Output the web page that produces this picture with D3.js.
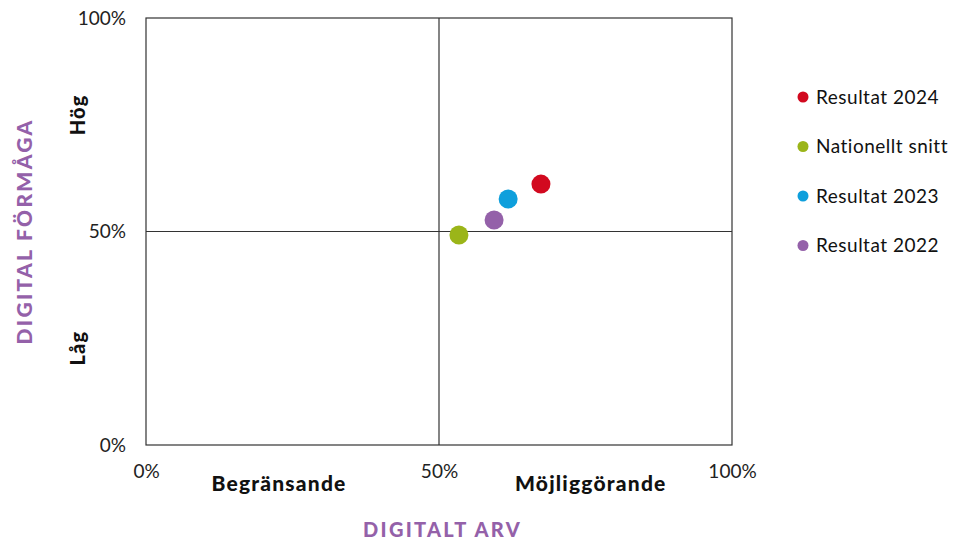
<!DOCTYPE html>
<html>
<head>
<meta charset="utf-8">
<script src="https://cdn.jsdelivr.net/npm/d3@7"></script>
<style>
  html, body { margin: 0; padding: 0; background: #fff; }
  svg { display: block; font-family: Lato, "Open Sans", sans-serif; }
</style>
</head>
<body>
<svg id="chart" width="954" height="544"></svg>
<script>
// Series shown in the matrix (x = digitalt arv, y = digital förmåga)
const seriesNames = ["Resultat 2024", "Nationellt snitt", "Resultat 2023", "Resultat 2022"];
const xValues = [0.674, 0.534, 0.618, 0.594];
const yValues = [0.611, 0.492, 0.576, 0.527];
const seriesColors = ["#d2091f", "#9bb519", "#0e9fdc", "#9461a9"];
const tickValues = [0, 0.5, 1];

const svg = d3.select("#chart");
const margin = { left: 146, right: 222, top: 18, bottom: 99 };
const W = 954, H = 544;

const x = d3.scaleLinear().domain([0, 1]).range([margin.left, W - margin.right]);
const y = d3.scaleLinear().domain([0, 1]).range([H - margin.bottom, margin.top]);
const fmt = d3.format(".0%");

// Frame and quadrant dividers
svg.append("rect")
  .attr("x", x(0)).attr("y", y(1))
  .attr("width", x(1) - x(0)).attr("height", y(0) - y(1))
  .attr("fill", "none").attr("stroke", "#333").attr("stroke-width", 1.2);
svg.append("line")
  .attr("x1", x(0.5)).attr("x2", x(0.5)).attr("y1", y(0)).attr("y2", y(1))
  .attr("stroke", "#333").attr("stroke-width", 1.2);
svg.append("line")
  .attr("x1", x(0)).attr("x2", x(1)).attr("y1", y(0.5)).attr("y2", y(0.5))
  .attr("stroke", "#333").attr("stroke-width", 1.2);

// Axes: tick labels only
const yAxis = svg.append("g")
  .attr("transform", `translate(${x(0) - 20},0)`)
  .call(d3.axisLeft(y).tickValues(tickValues).tickFormat(fmt).tickSize(0).tickPadding(0));
yAxis.select(".domain").remove();
yAxis.selectAll("text")
  .attr("font-family", "Lato, sans-serif").attr("font-size", 19).attr("fill", "#222");

const xAxis = svg.append("g")
  .attr("transform", `translate(0,${y(0) + 19})`)
  .call(d3.axisBottom(x).tickValues(tickValues).tickFormat(fmt).tickSize(0).tickPadding(0));
xAxis.select(".domain").remove();
xAxis.selectAll("text")
  .attr("font-family", "Lato, sans-serif").attr("font-size", 19).attr("fill", "#222");

// Quadrant descriptors
const descStyle = sel => sel
  .attr("text-anchor", "middle").attr("font-weight", 900).attr("font-size", 21)
  .attr("letter-spacing", 1.2).attr("fill", "#111");
svg.append("text").attr("x", x(0.227)).attr("y", 491).call(descStyle).text("Begränsande");
svg.append("text").attr("x", x(0.759)).attr("y", 491).call(descStyle).text("Möjliggörande");
svg.append("text")
  .attr("transform", `translate(85,${y(0.773)}) rotate(-90)`)
  .call(descStyle).attr("font-size", 20).text("Hög");
svg.append("text")
  .attr("transform", `translate(85,${y(0.227)}) rotate(-90)`)
  .call(descStyle).attr("font-size", 20).text("Låg");

// Axis titles
svg.append("text").attr("x", x(0.506)).attr("y", 537)
  .attr("text-anchor", "middle").attr("font-weight", 900).attr("font-size", 20)
  .attr("letter-spacing", 2.3).attr("fill", "#9461a9")
  .text("DIGITALT ARV");
svg.append("text")
  .attr("transform", `translate(32,${y(0.5)}) rotate(-90)`)
  .attr("text-anchor", "middle").attr("font-weight", 900).attr("font-size", 21)
  .attr("letter-spacing", 2.3).attr("fill", "#9461a9")
  .text("DIGITAL FÖRMÅGA");

// Points
const data = seriesNames.map((name, i) => ({ name, x: xValues[i], y: yValues[i], color: seriesColors[i] }));
svg.append("g").selectAll("circle")
  .data(data.slice().reverse())
  .join("circle")
  .attr("cx", d => x(d.x)).attr("cy", d => y(d.y)).attr("r", 9.5)
  .attr("fill", d => d.color);

// Legend
const legend = svg.append("g").attr("transform", "translate(803,97)");
const item = legend.selectAll("g").data(data).join("g")
  .attr("transform", (d, i) => `translate(0,${i * 49.5})`);
item.append("circle").attr("r", 5.5).attr("fill", d => d.color);
item.append("text").attr("x", 13).attr("dy", "0.35em")
  .attr("font-size", 19).attr("letter-spacing", 0.5).attr("fill", "#111")
  .text(d => d.name);
</script>
</body>
</html>
